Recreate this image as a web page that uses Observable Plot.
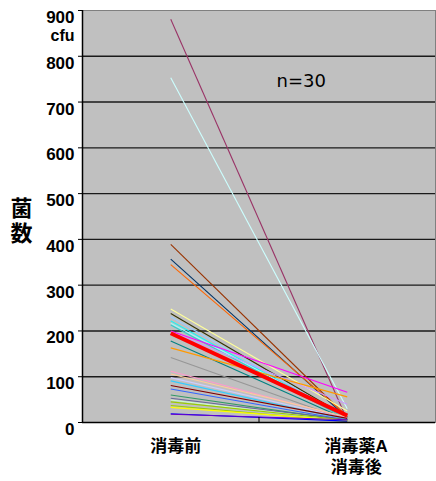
<!DOCTYPE html>
<html lang="ja">
<head>
<meta charset="utf-8">
<script src="https://cdn.jsdelivr.net/npm/d3@7"></script>
<script src="https://cdn.jsdelivr.net/npm/@observablehq/plot@0.6"></script>
<style>
  html, body { margin: 0; padding: 0; background: #fff; }
  #chart svg { display: block; }
</style>
</head>
<body>
<div id="chart"></div>
<script>
// Categories (second one is written on two lines)
const categories = ["消毒前", "消毒薬A", "消毒後"];
// Per-subject counts before / after disinfection (cfu)
const before = [881, 753, 389, 357, 345, 248, 238, 231, 222, 217, 213, 200, 198, 178, 163, 142, 112, 106, 98, 91, 81, 73, 60, 53, 49, 45, 37, 33, 19, 18];
const after  = [5, 30, 12, 10, 15, 25, 12, 10, 8, 9, 7, 66, 40, 6, 56, 5, 10, 12, 8, 6, 9, 5, 4, 6, 3, 5, 2, 4, 3, 6];
const lineColors = ["#993366", "#ccffff", "#993300", "#003366", "#ff6600", "#ffff99", "#333300", "#99ccff", "#00ffff", "#99ffff",
                    "#33cccc", "#ff00ff", "#cc99ff", "#008080", "#ff9900", "#969696", "#ff99cc", "#ffcc99", "#ccccff", "#33ccff",
                    "#800000", "#3366ff", "#339966", "#666699", "#ccffcc", "#99cc00", "#99cc00", "#ffff00", "#0000ff", "#6600cc"];
// Mean line
const meanValues = [195, 15];
// Axis
const yTicks = [0, 100, 200, 300, 400, 500, 600, 700, 800, 900];
const yUnit = "cfu";
const yTitleChars = ["菌", "数"];
const note = "n=30";

const subjects = before.map((b, i) => ({b, a: after[i], c: lineColors[i]}));
const catPos = [0.5, 1.5];

const latin = "'Liberation Sans', Arial, sans-serif";
const cjk = "'Liberation Sans', 'Noto Sans CJK JP', sans-serif";

const chart = Plot.plot({
  width: 436,
  height: 481,
  marginLeft: 82,
  marginRight: 1,
  marginTop: 10,
  marginBottom: 59,
  x: {type: "linear", domain: [0, 2], axis: null},
  y: {domain: [0, 900], axis: null},
  style: {fontFamily: latin, background: "#fff"},
  marks: [
    Plot.frame({fill: "#c0c0c0", stroke: "#808080"}),
    Plot.ruleY(yTicks.filter(d => d > 0 && d < 900), {stroke: "#1a1a1a", strokeWidth: 1.4}),
    Plot.link(subjects, {
      x1: () => catPos[0], x2: () => catPos[1],
      y1: "b", y2: "a", stroke: "c", strokeWidth: 1.1
    }),
    Plot.link([meanValues], {
      x1: () => catPos[0], x2: () => catPos[1],
      y1: d => d[0], y2: d => d[1], stroke: "#ff0000", strokeWidth: 4
    }),
    Plot.ruleX([0], {stroke: "#000", strokeWidth: 1.5}),
    Plot.ruleY([0], {stroke: "#000", strokeWidth: 1.5}),
    Plot.axisY({ticks: yTicks, tickSize: 4, tickFormat: () => "", label: null, stroke: "#000"}),
    Plot.axisX({ticks: [1], tickSize: -5, tickFormat: () => "", label: null, stroke: "#000"}),
    // y tick labels
    Plot.text(yTicks, {
      x: () => 0, y: d => d, text: d => String(d),
      textAnchor: "end", dx: -8, dy: 7,
      fontSize: 17, fontWeight: "bold", fill: "#000", fontFamily: latin
    }),
    Plot.text([yUnit], {
      x: () => 0, y: () => yTicks[yTicks.length - 1], text: d => d,
      textAnchor: "end", dx: -8, dy: 25,
      fontSize: 16, fontWeight: "bold", fill: "#000", fontFamily: latin
    }),
    // y title (vertical, one character per line)
    Plot.text([yTitleChars[0]], {
      frameAnchor: "left", text: d => d, textAnchor: "middle", dx: -61, dy: -7.5,
      fontSize: 22, fontWeight: "bold", fill: "#000", fontFamily: cjk
    }),
    Plot.text([yTitleChars[1]], {
      frameAnchor: "left", text: d => d, textAnchor: "middle", dx: -61, dy: 17.5,
      fontSize: 22, fontWeight: "bold", fill: "#000", fontFamily: cjk
    }),
    // x category labels
    Plot.text([categories[0]], {
      x: () => catPos[0], y: () => 0, text: d => d,
      dx: 5, dy: 24,
      fontSize: 17, fontWeight: "bold", fill: "#000", fontFamily: cjk
    }),
    Plot.text([categories[1]], {
      x: () => catPos[1], y: () => 0, text: d => d,
      dx: 9, dy: 24,
      fontSize: 17, fontWeight: "bold", fill: "#000", fontFamily: cjk
    }),
    Plot.text([categories[2]], {
      x: () => catPos[1], y: () => 0, text: d => d,
      dx: 9, dy: 45,
      fontSize: 17, fontWeight: "bold", fill: "#000", fontFamily: cjk
    }),
    // annotation
    Plot.text([note], {
      frameAnchor: "top-left", text: d => d, dx: 194, dy: 64,
      fontSize: 18, fill: "#000", fontFamily: "'DejaVu Sans', sans-serif"
    })
  ]
});
document.getElementById("chart").appendChild(chart);
</script>
</body>
</html>
